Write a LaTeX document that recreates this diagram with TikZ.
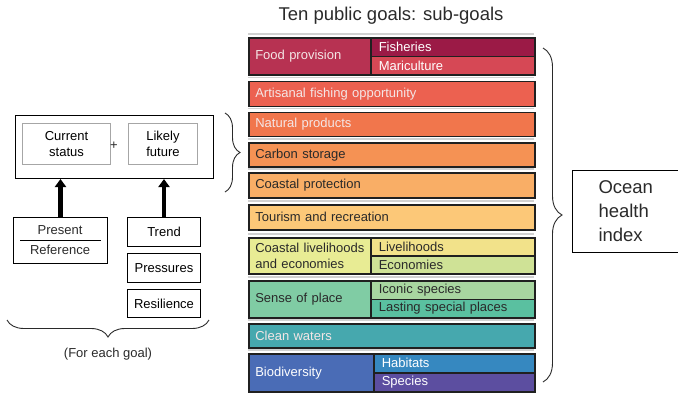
\documentclass[tikz,border=0pt]{standalone}
\usepackage{fontspec}
\setmainfont{Liberation Sans}
\usetikzlibrary{arrows.meta,decorations.pathreplacing}

\definecolor{edge}{HTML}{202020}
\definecolor{ink}{HTML}{2A2A2A}
\definecolor{pale}{HTML}{F4E6E6}
\definecolor{food}{HTML}{B73252}
\definecolor{fish}{HTML}{9B1A46}
\definecolor{mari}{HTML}{D64855}
\definecolor{artis}{HTML}{EC6150}
\definecolor{natprod}{HTML}{F1764C}
\definecolor{carbon}{HTML}{F59254}
\definecolor{coastprot}{HTML}{F9AE66}
\definecolor{tourism}{HTML}{FCC878}
\definecolor{livecon}{HTML}{E8EC94}
\definecolor{liveli}{HTML}{F2E28A}
\definecolor{econ}{HTML}{CFE296}
\definecolor{sense}{HTML}{80CCA4}
\definecolor{iconic}{HTML}{A8D6A0}
\definecolor{lasting}{HTML}{5AC0A0}
\definecolor{clean}{HTML}{46A8AE}
\definecolor{biodiv}{HTML}{4A6CB6}
\definecolor{habit}{HTML}{3688C0}
\definecolor{species}{HTML}{5C4EA0}

\newcommand\goalfont{\fontsize{13}{15.5}\selectfont}
\newcommand\bigfont{\fontsize{18.5}{24}\selectfont}

\begin{document}
\begin{tikzpicture}
[x=1pt,y=-1pt,
 goal/.style={draw=edge,line width=1.6pt,anchor=north west,inner xsep=6.5pt,
   inner ysep=0pt,align=left,font=\goalfont},
 sub/.style={goal,inner xsep=8pt},
 rim/.style={draw=black!18,line width=1.6pt},
 frame/.style={draw=black,line width=1pt,font=\goalfont,align=center,anchor=north west},
 inner/.style={frame,draw=black!35},
 fat/.style={line width=4.5pt,-{Triangle[width=11pt,length=8pt]}},
 curly/.style={draw=ink,line width=0.9pt,decorate,decoration={brace,amplitude=#1}}]
\useasboundingbox (0,0) rectangle (678,392);

% title
\node[font=\bigfont,text=ink] (title) at (391,16) {Ten public goals: sub-goals};

% goals and sub-goals
\node[goal,fill=food,text=pale,text width=109pt,minimum height=37pt] (food) at (248,37) {Food provision};
\node[sub,fill=fish,text=white,text width=148pt,minimum height=18.5pt] (fish) at (370,37) {Fisheries};
\node[sub,fill=mari,text=white,text width=148pt,minimum height=18.5pt] (mari) at (370,55.5) {Mariculture};
\node[goal,fill=artis,text=pale,text width=273pt,minimum height=25pt] (artis) at (248,80.5) {Artisanal fishing opportunity};
\node[goal,fill=natprod,text=pale,text width=273pt,minimum height=24pt] (natprod) at (248,111.5) {Natural products};
\node[goal,fill=carbon,text=ink,text width=273pt,minimum height=24pt] (carbon) at (248,142) {Carbon storage};
\node[goal,fill=coastprot,text=ink,text width=273pt,minimum height=25pt] (coastprot) at (248,172) {Coastal protection};
\node[goal,fill=tourism,text=ink,text width=273pt,minimum height=25pt] (tourism) at (248,204) {Tourism and recreation};
\node[goal,fill=livecon,text=ink,text width=109pt,minimum height=36pt] (livecon) at (248,237) {\mbox{Coastal livelihoods}\\and economies};
\node[sub,fill=liveli,text=ink,text width=148pt,minimum height=18pt] (liveli) at (370,237) {Livelihoods};
\node[sub,fill=econ,text=ink,text width=148pt,minimum height=18pt] (econ) at (370,255) {Economies};
\node[goal,fill=sense,text=ink,text width=109pt,minimum height=37pt] (sense) at (248,280) {Sense of place};
\node[sub,fill=iconic,text=ink,text width=148pt,minimum height=18.5pt] (iconic) at (370,280) {Iconic species};
\node[sub,fill=lasting,text=ink,text width=148pt,minimum height=18.5pt] (lasting) at (370,298.5) {Lasting special places};
\node[goal,fill=clean,text=pale,text width=273pt,minimum height=24pt] (clean) at (248,323) {Clean waters};
\node[goal,fill=biodiv,text=white,text width=112pt,minimum height=38pt] (biodiv) at (248,353) {Biodiversity};
\node[sub,fill=habit,text=white,text width=145pt,minimum height=19pt] (habit) at (373,353) {Habitats};
\node[sub,fill=species,text=white,text width=145pt,minimum height=19pt] (species) at (373,372) {Species};

% grey rim over each row
\foreach \g in {food,artis,natprod,carbon,coastprot,tourism,livecon,sense,clean,biodiv}
  \draw[rim] ([yshift=3.2pt]\g.north west) -- ++(286,0);

% index
\draw[curly=19pt] (543,48) -- (543,382);
\node[frame,align=left,font=\bigfont,text=ink,text width=56pt,inner xsep=26pt,
  minimum height=82pt] (ohi) at (572,170) {Ocean\\health\\index};

% one goal score
\draw[curly=15pt] (225,113) -- (225,192);
\node[frame,minimum width=198pt,minimum height=63pt] (score) at (15,115) {};
\node[inner,minimum width=88pt,minimum height=41pt] (status) at (22,123) {Current\\status};
\node[inner,minimum width=69pt,minimum height=41pt] (future) at (128,123) {Likely\\future};
\node[font=\goalfont,text=ink] (plus) at (114,146) {+};

\node[frame,minimum width=94pt,minimum height=46pt] (ratio) at (13,217) {};
\node[font=\goalfont,text=ink] (present) at (60,230) {Present};
\node[font=\goalfont,text=ink] (reference) at (60,249.5) {Reference};
\draw[line width=0.9pt] ([xshift=7pt]ratio.west) -- ([xshift=-7pt]ratio.east);
\node[frame,minimum width=73pt,minimum height=29pt] (trend) at (127,217) {Trend};
\node[frame,minimum width=73pt,minimum height=29pt] (press) at (127,253) {Pressures};
\node[frame,minimum width=73pt,minimum height=28pt] (resil) at (127,289) {Resilience};

\draw[fat] (ratio.north) -- (ratio.north |- score.south);
\draw[fat] (trend.north) -- (trend.north |- score.south);

\draw[curly=17pt] (209,320) -- (7,320);
\node[font=\goalfont,text=ink] (each) at (108,354) {(For each goal)};
\end{tikzpicture}
\end{document}
